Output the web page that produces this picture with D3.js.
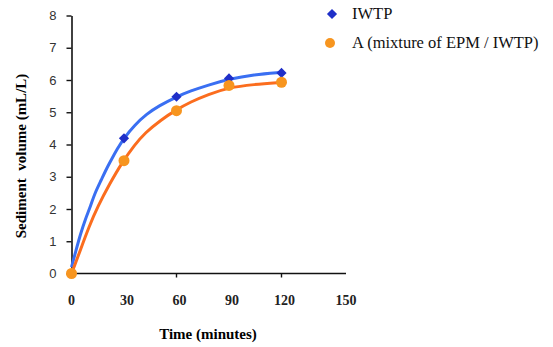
<!DOCTYPE html>
<html>
<head>
<meta charset="utf-8">
<script src="https://cdn.jsdelivr.net/npm/d3@7"></script>
<style>
  body { margin: 0; background: #fff; }
  svg { display: block; }
</style>
</head>
<body>
<svg width="553" height="347"></svg>
<script>
// measured points
var times = [0, 30, 60, 90, 120];
var iwtp = [0, 4.19, 5.48, 6.05, 6.22];
var mixA = [0, 3.5, 5.05, 5.83, 5.93];

// fitted curves
var iwtpFitT = [0, 2.5, 5, 8, 11, 13, 17, 20, 23, 26, 30, 36, 43, 50, 60, 68, 78, 90, 104, 120];
var iwtpFitV = [0.2, 0.7, 1.2, 1.7, 2.1, 2.45, 2.9, 3.25, 3.55, 3.85, 4.2, 4.6, 4.95, 5.2, 5.48, 5.66, 5.84, 6.03, 6.17, 6.24];
var mixFitT = [0, 1.5, 5, 10, 15, 22, 29, 36, 42, 51, 60, 68, 78, 90, 104, 120];
var mixFitV = [0, 0.2, 0.72, 1.45, 2.08, 2.8, 3.45, 3.98, 4.36, 4.76, 5.08, 5.32, 5.55, 5.77, 5.86, 5.93];

var xTicks = [0, 30, 60, 90, 120, 150];
var yTicks = [0, 1, 2, 3, 4, 5, 6, 7, 8];
var legendNames = ["IWTP", "A (mixture of EPM / IWTP)"];

var svg = d3.select("svg");

var x = d3.scaleLinear().domain([0, 150]).range([71.5, 334]);
var y = d3.scaleLinear().domain([0, 8]).range([273.5, 15.5]);

// axes
var yAxis = svg.append("g")
    .attr("transform", "translate(71.5,0)")
    .call(d3.axisLeft(y).tickValues(yTicks).tickSize(5).tickSizeOuter(0).tickPadding(10));
yAxis.select(".domain").attr("stroke", "#111").attr("stroke-width", 1.6);
yAxis.selectAll(".tick line").attr("stroke", "#111").attr("stroke-width", 1.4);
yAxis.selectAll(".tick text")
    .attr("font-family", "Liberation Sans, Arial, sans-serif")
    .attr("font-size", 13)
    .attr("fill", "#333");

var xAxis = svg.append("g")
    .attr("transform", "translate(0,273.5)");
xAxis.append("line")
    .attr("x1", x(0)).attr("x2", 346)
    .attr("stroke", "#111").attr("stroke-width", 1.6);
xAxis.selectAll("line.tk")
    .data([60, 120])
    .enter().append("line")
    .attr("class", "tk")
    .attr("x1", d => x(d)).attr("x2", d => x(d))
    .attr("y1", 0).attr("y2", 4)
    .attr("stroke", "#111").attr("stroke-width", 1.4);
xAxis.selectAll("text")
    .data(xTicks)
    .enter().append("text")
    .attr("x", d => x(d) + (d == 150 ? 12 : d >= 30 ? 3 : 0))
    .attr("y", 31)
    .attr("text-anchor", "middle")
    .attr("font-family", "Liberation Serif, Times New Roman, serif")
    .attr("font-weight", "bold")
    .attr("font-size", 14)
    .attr("fill", "#222")
    .text(d => d);

// axis titles
svg.append("text")
    .attr("x", 208)
    .attr("y", 339)
    .attr("text-anchor", "middle")
    .attr("font-family", "Liberation Serif, Times New Roman, serif")
    .attr("font-weight", "bold")
    .attr("font-size", 15)
    .text("Time (minutes)");

svg.append("text")
    .attr("transform", "translate(26,156) rotate(-90)")
    .attr("text-anchor", "middle")
    .attr("font-family", "Liberation Serif, Times New Roman, serif")
    .attr("font-weight", "bold")
    .attr("font-size", 15)
    .style("white-space", "pre")
    .text("Sediment  volume (mL/L)");

// curves
var line = d3.line()
    .x(d => x(d[0]))
    .y(d => y(d[1]))
    .curve(d3.curveBasis);

svg.append("path")
    .datum(d3.zip(iwtpFitT, iwtpFitV))
    .attr("d", line)
    .attr("fill", "none")
    .attr("stroke", "#3a6ff2")
    .attr("stroke-width", 3);

svg.append("path")
    .datum(d3.zip(mixFitT, mixFitV))
    .attr("d", line)
    .attr("fill", "none")
    .attr("stroke", "#fb6d1e")
    .attr("stroke-width", 3);

// markers: square turned 45 degrees
var diamond = d3.symbol().type(d3.symbolSquare).size(52);

svg.selectAll("path.iw")
    .data(d3.zip(times, iwtp))
    .enter().append("path")
    .attr("class", "iw")
    .attr("d", diamond)
    .attr("transform", d => "translate(" + x(d[0]) + "," + y(d[1]) + ") rotate(45)")
    .attr("fill", "#1f2fc8");

svg.selectAll("circle.mx")
    .data(d3.zip(times, mixA))
    .enter().append("circle")
    .attr("class", "mx")
    .attr("cx", d => x(d[0]))
    .attr("cy", d => y(d[1]))
    .attr("r", 5.5)
    .attr("fill", "#f7951f");

// legend
var legend = svg.append("g").attr("class", "legend");
legend.append("path")
    .attr("d", diamond)
    .attr("transform", "translate(332,14) rotate(45)")
    .attr("fill", "#1f2fc8");
legend.append("circle")
    .attr("cx", 330)
    .attr("cy", 43)
    .attr("r", 5)
    .attr("fill", "#f7951f");
legend.selectAll("text")
    .data(legendNames)
    .enter().append("text")
    .attr("x", 352)
    .attr("y", (d, i) => 19 + i * 29)
    .attr("font-family", "Liberation Serif, Times New Roman, serif")
    .attr("font-size", 16.5)
    .attr("fill", "#111")
    .text(d => d);
</script>
</body>
</html>
